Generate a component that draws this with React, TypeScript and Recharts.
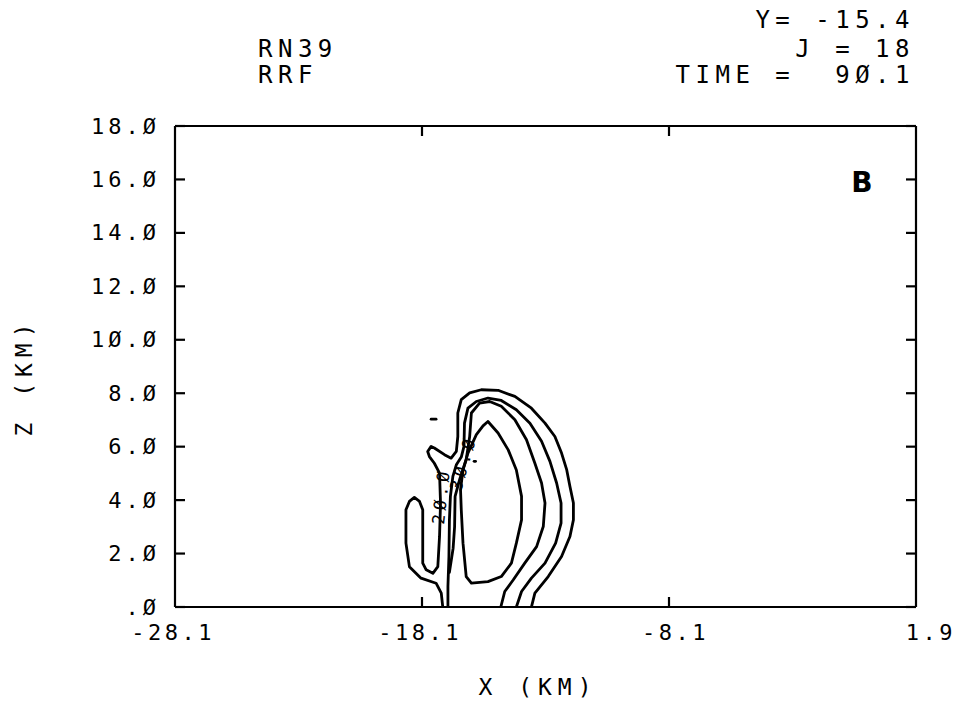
import React from 'react';
import { ScatterChart, Scatter, XAxis, YAxis } from 'recharts';

// Axis ticks and their printed labels (plotter font uses a slashed zero)
const X_TICKS = [-28.1, -18.1, -8.1, 1.9];
const X_TICK_LABELS = ['-28.1', '-18.1', '-8.1', '1.9'];
const X_INNER_TICKS = [-18.1, -8.1];
const Z_TICKS = [0, 2, 4, 6, 8, 10, 12, 14, 16, 18];
const Z_TICK_LABELS = ['.Ø', '2.Ø', '4.Ø', '6.Ø', '8.Ø', '1Ø.Ø', '12.Ø', '14.Ø', '16.Ø', '18.Ø'];
const X_DOMAIN: [number, number] = [-28.1, 1.9];
const Z_DOMAIN: [number, number] = [0, 18];

// Contour traces, [X (km), Z (km)]
const contourOuter: [number, number][] = [
  [-17.26, 0], [-17.32, 0.52], [-17.53, 0.89], [-18.14, 1.08], [-18.61, 1.51], [-18.75, 2.39],
  [-18.75, 3.64], [-18.61, 3.95], [-18.41, 4.1], [-18.2, 3.95], [-18.07, 3.64], [-18.07, 1.64],
  [-17.93, 1.39], [-17.66, 1.26], [-17.46, 1.51], [-17.39, 2.64], [-17.35, 3.89], [-17.39, 5.01],
  [-17.6, 5.38], [-17.8, 5.63], [-17.87, 5.82], [-17.73, 6.01], [-17.6, 5.95], [-17.19, 5.7],
  [-16.92, 5.57], [-16.71, 5.82], [-16.65, 6.38], [-16.65, 7.26], [-16.51, 7.76], [-16.17, 8.01],
  [-15.7, 8.13], [-15.02, 8.11], [-14.34, 7.88], [-13.67, 7.44], [-13.12, 6.88], [-12.72, 6.38],
  [-12.45, 5.76], [-12.24, 5.13], [-12.11, 4.51], [-11.97, 3.89], [-11.97, 3.26], [-12.11, 2.64],
  [-12.45, 1.89], [-12.99, 1.14], [-13.53, 0.52], [-13.67, 0],
];

const contourMiddle: [number, number][] = [
  [-17.05, 0], [-17.05, 0.77], [-17.01, 1.89], [-16.99, 3.26], [-16.95, 4.14], [-16.85, 4.89],
  [-16.71, 5.32], [-16.51, 5.61], [-16.4, 6.01], [-16.38, 6.88], [-16.24, 7.44], [-15.9, 7.69],
  [-15.43, 7.82], [-14.89, 7.73], [-14.28, 7.38], [-13.73, 6.88], [-13.26, 6.2], [-12.92, 5.45],
  [-12.65, 4.64], [-12.47, 3.89], [-12.47, 3.14], [-12.69, 2.39], [-13.12, 1.64], [-13.67, 1.08],
  [-14.07, 0.58], [-14.28, 0],
];

const contourInner: [number, number][] = [
  [-16.99, 1.3], [-16.84, 2.2], [-16.78, 3.01], [-16.76, 4.14], [-16.58, 4.76], [-16.31, 5.51],
  [-16.17, 6.38], [-16.1, 7.26], [-15.77, 7.63], [-15.36, 7.69], [-14.89, 7.51], [-14.34, 7.01],
  [-13.87, 6.26], [-13.53, 5.38], [-13.26, 4.64], [-13.12, 3.89], [-13.19, 3.01], [-13.46, 2.26],
  [-13.94, 1.64], [-14.41, 1.01], [-14.75, 0.58], [-14.91, 0],
];

const contourCore: [number, number][] = [
  [-15.43, 6.94], [-15.02, 6.51], [-14.61, 5.88], [-14.28, 5.13], [-14.07, 4.14], [-14.07, 3.26],
  [-14.28, 2.39], [-14.48, 1.64], [-14.89, 1.14], [-15.43, 0.95], [-16.1, 0.89], [-16.31, 1.14],
  [-16.44, 2.39], [-16.51, 3.64], [-16.54, 4.39], [-16.44, 5.13], [-16.24, 5.76], [-15.9, 6.45],
  [-15.63, 6.78], [-15.43, 6.94],
];

const contourDash: [number, number][] = [[-17.73, 7.03], [-17.53, 7.03]];
const contourDot: [number, number][] = [[-15.99, 5.45], [-15.93, 5.45]];

const CONTOURS = [contourOuter, contourMiddle, contourInner, contourCore, contourDash, contourDot];

// One anchor point per frame axis pair so the frame axes are drawn
const FRAME_ANCHOR = [{ x: -28.1, z: 0 }];

const toPoints = (c: [number, number][]) => c.map(([x, z]) => ({ x, z }));

const MONO = '"DejaVu Sans Mono", monospace';

const XTickLabel = (props: any) => {
  const { x, y, index } = props;
  return (
    <text x={x + 40} y={y + 25} textAnchor="end" dominantBaseline="central"
      fontFamily={MONO} fontSize={22} letterSpacing={3.5} fill="#000">
      {X_TICK_LABELS[index]}
    </text>
  );
};

const ZTickLabel = (props: any) => {
  const { x, y, index } = props;
  return (
    <text x={x - 15} y={y} textAnchor="end" dominantBaseline="central"
      fontFamily={MONO} fontSize={22} letterSpacing={4} fill="#000">
      {Z_TICK_LABELS[index]}
    </text>
  );
};

const frameLine = { stroke: '#000', strokeWidth: 2.2 };
const hidden = () => <g />;

const textStyle: React.CSSProperties = {
  position: 'absolute',
  fontFamily: MONO,
  fontSize: 24,
  lineHeight: '24px',
  letterSpacing: 5.5,
  whiteSpace: 'pre',
  color: '#000',
};

export default function App() {
  return (
    <div style={{ position: 'absolute', left: 0, top: 0, width: 978, height: 712, background: '#fff' }}>
      <ScatterChart width={978} height={712} margin={{ top: 126, right: 62, bottom: 0, left: 0 }}>
        <XAxis xAxisId="lab" dataKey="x" type="number" orientation="bottom" domain={X_DOMAIN}
          allowDataOverflow ticks={X_TICKS} interval={0} height={105} axisLine={false}
          tickLine={false} tickSize={0} tickMargin={0} tick={<XTickLabel />} />
        <XAxis xAxisId="bot" dataKey="x" type="number" orientation="bottom" mirror domain={X_DOMAIN}
          allowDataOverflow ticks={X_INNER_TICKS} interval={0} height={1} axisLine={frameLine}
          tickLine={frameLine} tickSize={10} tick={hidden} />
        <XAxis xAxisId="top" dataKey="x" type="number" orientation="top" mirror domain={X_DOMAIN}
          allowDataOverflow ticks={X_INNER_TICKS} interval={0} height={1} axisLine={frameLine}
          tickLine={frameLine} tickSize={10} tick={hidden} />
        <YAxis yAxisId="lab" dataKey="z" type="number" orientation="left" domain={Z_DOMAIN}
          allowDataOverflow ticks={Z_TICKS} interval={0} width={175} axisLine={false}
          tickLine={false} tickSize={0} tickMargin={0} tick={<ZTickLabel />} />
        <YAxis yAxisId="left" dataKey="z" type="number" orientation="left" mirror domain={Z_DOMAIN}
          allowDataOverflow ticks={Z_TICKS} interval={0} width={1} axisLine={frameLine}
          tickLine={frameLine} tickSize={10} tick={hidden} />
        <YAxis yAxisId="right" dataKey="z" type="number" orientation="right" mirror domain={Z_DOMAIN}
          allowDataOverflow ticks={Z_TICKS} interval={0} width={1} axisLine={frameLine}
          tickLine={frameLine} tickSize={10} tick={hidden} />

        <Scatter xAxisId="bot" yAxisId="left" data={FRAME_ANCHOR} shape={hidden} isAnimationActive={false} />
        <Scatter xAxisId="top" yAxisId="right" data={FRAME_ANCHOR} shape={hidden} isAnimationActive={false} />

        {CONTOURS.map((c, i) => (
          <Scatter key={i} xAxisId="lab" yAxisId="lab" data={toPoints(c)} isAnimationActive={false}
            line={{ stroke: '#000', strokeWidth: 2.8, strokeLinejoin: 'round', strokeLinecap: 'round' }}
            lineType="joint" shape={hidden} />
        ))}
      </ScatterChart>

      <div style={{ ...textStyle, right: 63, top: 8 }}>Y= -15.4</div>
      <div style={{ ...textStyle, right: 63, top: 37 }}>J = 18</div>
      <div style={{ ...textStyle, right: 63, top: 63 }}>TIME =  9Ø.1</div>
      <div style={{ ...textStyle, left: 258, top: 37 }}>RN39</div>
      <div style={{ ...textStyle, left: 258, top: 63 }}>RRF</div>

      <div style={{ ...textStyle, fontSize: 23, letterSpacing: 6, left: 538, top: 687, transform: 'translate(-50%, -50%)' }}>X (KM)</div>
      <div style={{ ...textStyle, fontSize: 23, letterSpacing: 6, left: 24, top: 377, transform: 'translate(-50%, -50%) rotate(-90deg)' }}>Z (KM)</div>

      <div style={{ position: 'absolute', left: 862, top: 183, transform: 'translate(-50%, -50%)',
        fontFamily: '"DejaVu Sans", sans-serif', fontWeight: 900, fontSize: 28, lineHeight: '28px' }}>B</div>

      <div style={{ ...textStyle, fontSize: 17, letterSpacing: 4, left: 441, top: 496, transform: 'translate(-50%, -50%) rotate(-84deg)' }}>2Ø.Ø</div>
      <div style={{ ...textStyle, fontSize: 17, letterSpacing: 4, left: 463, top: 463, transform: 'translate(-50%, -50%) rotate(-74deg)' }}>3Ø.Ø</div>
    </div>
  );
}
